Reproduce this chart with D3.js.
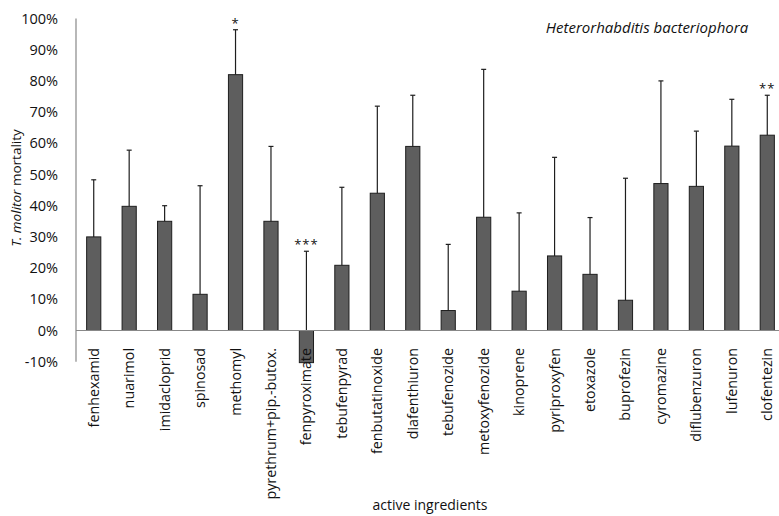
<!DOCTYPE html>
<html><head><meta charset="utf-8">
<script src="https://cdn.jsdelivr.net/npm/d3@7"></script>
<style>body{margin:0;background:#fff}svg{display:block}</style>
</head><body>
<svg id="c" width="779" height="516"></svg>
<script>
const categories = ["fenhexamid","nuarimol","imidacloprid","spinosad","methomyl","pyrethrum+pip.-butox.","fenpyroximate","tebufenpyrad","fenbutatinoxide","diafenthiuron","tebufenozide","metoxyfenozide","kinoprene","pyriproxyfen","etoxazole","buprofezin","cyromazine","diflubenzuron","lufenuron","clofentezin"];
const mortality = [30, 39.8, 35, 11.6, 82, 35, -10.3, 20.9, 44, 59, 6.4, 36.3, 12.6, 23.9, 18, 9.7, 47.1, 46.2, 59.1, 62.6];
const errorTop = [48.3, 57.8, 40, 46.4, 96.4, 59, 25.4, 45.9, 71.9, 75.4, 27.6, 83.7, 37.7, 55.5, 36.2, 48.8, 80, 63.9, 74.1, 75.4];
const significance = ["","","","","*","","***","","","","","","","","","","","","","**"];
const yTicks = [-10,0,10,20,30,40,50,60,70,80,90,100];

const font = "'Open Sans', sans-serif";
const svg = d3.select("#c");
const x = d3.scaleBand().domain(categories).range([76, 785]).paddingInner(0.6).paddingOuter(0.3);
const y = d3.scaleLinear().domain([-10, 100]).range([361.7, 18.5]);

// y tick labels
svg.append("g").selectAll("text").data(yTicks).join("text")
  .attr("x", 58).attr("y", d => y(d)).attr("dy", "0.35em")
  .attr("text-anchor", "end").attr("font-family", font).attr("font-size", 14.5).attr("fill", "#111")
  .text(d => d + "%");

// bars
svg.append("g").selectAll("rect").data(categories).join("rect")
  .attr("x", d => x(d)).attr("width", x.bandwidth())
  .attr("y", (d,i) => y(Math.max(0, mortality[i])))
  .attr("height", (d,i) => Math.abs(y(mortality[i]) - y(0)))
  .attr("fill", "#5e5e5e").attr("stroke", "#1e1e1e").attr("stroke-width", 1);

// error bars
const eg = svg.append("g").attr("stroke", "#1e1e1e").attr("stroke-width", 1.2);
categories.forEach((c, i) => {
  const cx = x(c) + x.bandwidth() / 2;
  eg.append("line").attr("x1", cx).attr("x2", cx).attr("y1", y(Math.max(0, mortality[i]))).attr("y2", y(errorTop[i]));
  eg.append("line").attr("x1", cx - 2.5).attr("x2", cx + 2.5).attr("y1", y(errorTop[i])).attr("y2", y(errorTop[i]));
});

// axes lines
svg.append("line").attr("x1", 76).attr("x2", 779).attr("y1", y(0)).attr("y2", y(0)).attr("stroke", "#888").attr("stroke-width", 1.2);
svg.append("line").attr("x1", 76).attr("x2", 76).attr("y1", y(100)).attr("y2", y(-10)).attr("stroke", "#888").attr("stroke-width", 1.2);

// category labels
svg.append("g").selectAll("text").data(categories).join("text")
  .attr("transform", d => `translate(${x(d) + x.bandwidth()/2},348) rotate(-90)`)
  .attr("dy", "0.35em").attr("text-anchor", "end")
  .attr("font-family", font).attr("font-size", 14.3).attr("fill", "#111")
  .text(d => d);

// significance
svg.append("g").selectAll("text").data(categories).join("text")
  .attr("x", d => x(d) + x.bandwidth()/2).attr("y", (d,i) => y(errorTop[i]) - 2)
  .attr("text-anchor", "middle").attr("font-family", font).attr("font-size", 13).attr("fill", "#111")
  .attr("letter-spacing", 1)
  .text((d,i) => significance[i]);

// title
svg.append("text").attr("x", 647).attr("y", 28).attr("dy", "0.35em").attr("text-anchor", "middle")
  .attr("font-family", font).attr("font-size", 15).attr("font-style", "italic").attr("fill", "#111")
  .text("Heterorhabditis bacteriophora");

// y axis title
const yt = svg.append("text").attr("transform", "translate(16,188) rotate(-90)").attr("dy", "0.35em")
  .attr("text-anchor", "middle").attr("font-family", font).attr("font-size", 13.5).attr("fill", "#111");
yt.append("tspan").attr("font-style", "italic").text("T. molitor");
yt.append("tspan").text(" mortality");

// x axis title
svg.append("text").attr("x", 430).attr("y", 505).attr("dy", "0.35em").attr("text-anchor", "middle")
  .attr("font-family", font).attr("font-size", 14).attr("fill", "#111")
  .text("active ingredients");
</script>
</body></html>
